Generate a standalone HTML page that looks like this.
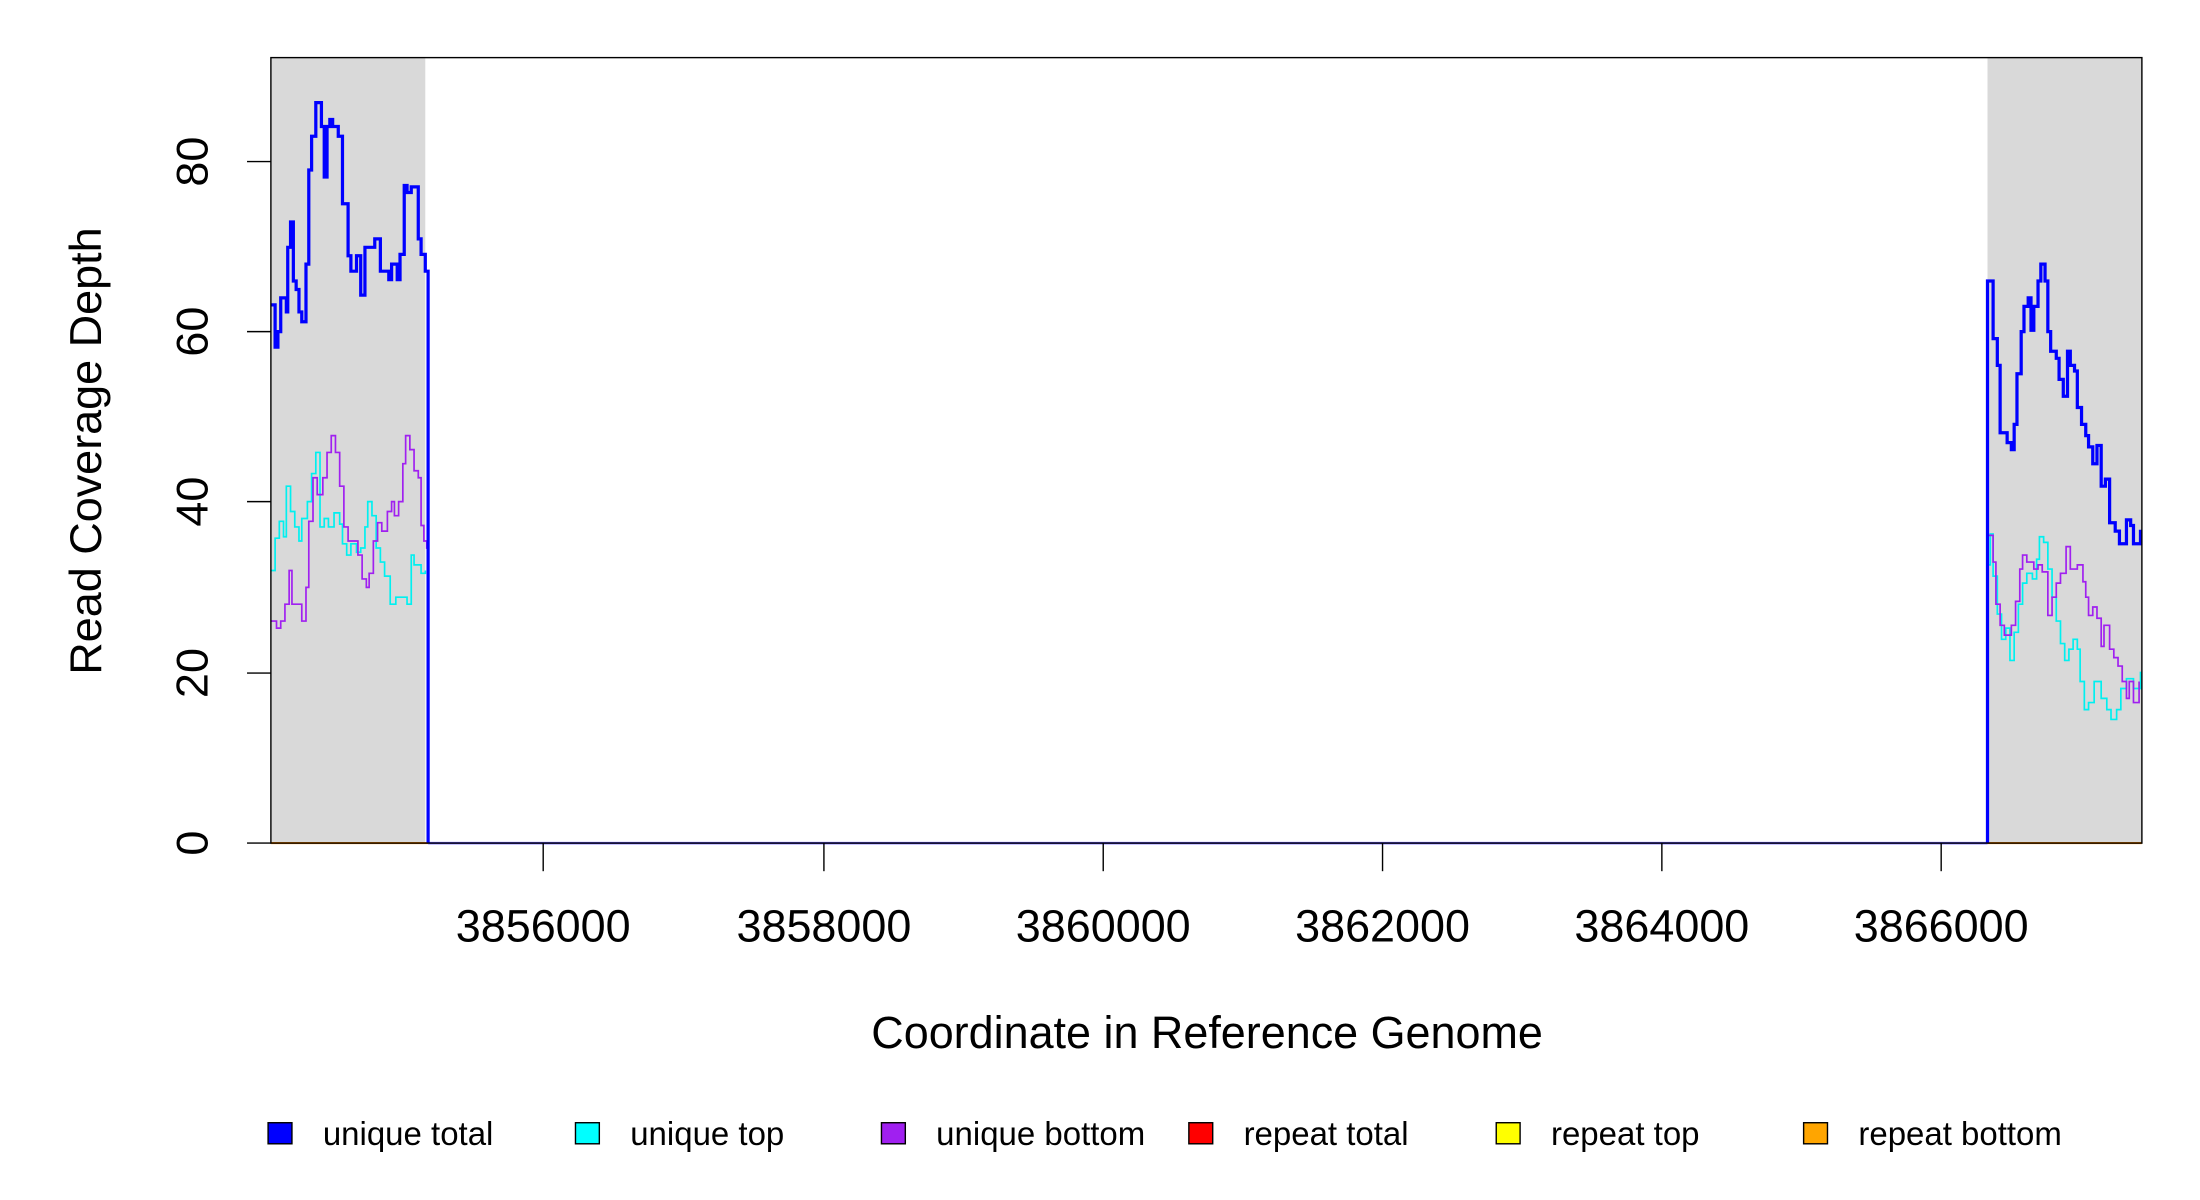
<!DOCTYPE html>
<html><head><meta charset="utf-8"><style>
html,body{margin:0;padding:0;background:#fff;}
svg{display:block;}
text{font-family:"Liberation Sans",sans-serif;fill:#000;}
</style></head><body>
<svg width="2200" height="1200" viewBox="0 0 1567.4 854" preserveAspectRatio="none" xmlns="http://www.w3.org/2000/svg">
<rect x="0" y="0" width="1567.4" height="854" fill="#fff"/>
<rect x="193" y="41" width="110" height="559" fill="#d9d9d9"/>
<rect x="1416" y="41" width="110" height="559" fill="#d9d9d9"/>
<line x1="193" y1="600" x2="305" y2="600" stroke="#ff8c00" stroke-width="1.5"/>
<line x1="1416" y1="600" x2="1526" y2="600" stroke="#ff8c00" stroke-width="1.5"/>
<line x1="305" y1="600" x2="1416" y2="600" stroke="#6a5cff" stroke-width="1.8"/>
<path fill="none" stroke="#00f0f0" stroke-width="1.2" d="M193 406 H196 V383 H199 V371 H202 V382 H204 V346 H207 V364 H210 V375 H213 V385 H215 V369 H219 V357 H222 V337 H225 V322 H228 V375 H231 V369 H234 V375 H238 V365 H242 V373 H244 V387 H247 V395 H250 V387 H254 V393 H257 V390 H260 V375 H262 V357 H265 V367 H268 V390 H271 V400 H274 V410 H278 V430 H282 V425 H290 V430 H293 V395 H295 V402 H300 V408 H303 V406"/>
<path fill="none" stroke="#a020f0" stroke-width="1.2" d="M193 442 H197 V447 H200 V442 H203 V430 H206 V406 H208 V430 H212 V430 H215 V442 H218 V418 H220 V371 H223 V340 H226 V352 H230 V340 H233 V322 H236 V310 H239 V322 H242 V346 H245 V375 H248 V385 H252 V385 H255 V395 H258 V412 H261 V418 H263 V408 H266 V385 H269 V372 H272 V378 H276 V364 H279 V357 H281 V367 H284 V357 H287 V330 H289 V310 H292 V320 H295 V335 H298 V340 H300 V374 H302 V385 H304 V390 H305 V600"/>
<path fill="none" stroke="#0000ff" stroke-width="2.3" d="M193 217 H196 V247 H198 V236 H200 V212 H204 V222 H205 V176 H207 V158 H209 V200 H211 V206 H213 V222 H215 V229 H218 V188 H220 V121 H222 V97 H225 V73 H229 V90 H231 V126 H233 V90 H235 V85 H237 V90 H241 V97 H244 V145 H248 V182 H250 V193 H254 V182 H257 V210 H260 V176 H267 V170 H271 V193 H277 V199 H279 V188 H283 V199 H285 V181 H288 V132 H290 V137 H293 V133 H298 V170 H300 V181 H303 V193 H305 V600"/>
<path fill="none" stroke="#00f0f0" stroke-width="1.2" d="M1416 402 H1418 V380 H1420 V410 H1423 V437 H1426 V455 H1429 V447 H1432 V470 H1435 V450 H1438 V430 H1441 V415 H1444 V408 H1448 V412 H1451 V398 H1453 V382 H1456 V386 H1459 V405 H1462 V425 H1465 V442 H1468 V458 H1471 V470 H1474 V462 H1477 V455 H1480 V462 H1482 V485 H1485 V505 H1488 V500 H1492 V485 H1497 V497 H1501 V505 H1504 V512 H1508 V505 H1511 V490 H1515 V483 H1520 V490 H1525 V478"/>
<path fill="none" stroke="#a020f0" stroke-width="1.2" d="M1416 600 V381 H1420 V400 H1422 V430 H1425 V445 H1428 V452 H1433 V445 H1436 V428 H1439 V405 H1441 V395 H1444 V400 H1449 V405 H1452 V402 H1455 V407 H1459 V438 H1462 V425 H1465 V415 H1468 V408 H1472 V389 H1475 V405 H1480 V402 H1484 V414 H1486 V425 H1488 V438 H1491 V432 H1494 V440 H1497 V460 H1499 V445 H1503 V462 H1506 V468 H1509 V474 H1512 V485 H1515 V497 H1517 V485 H1520 V500 H1524 V485"/>
<path fill="none" stroke="#0000ff" stroke-width="2.3" d="M1416 600 V200 H1420 V241 H1423 V260 H1425 V308 H1430 V315 H1433 V320 H1435 V302 H1437 V266 H1440 V236 H1442 V218 H1445 V212 H1447 V235 H1449 V218 H1452 V200 H1454 V188 H1457 V200 H1459 V236 H1461 V250 H1465 V255 H1467 V270 H1470 V282 H1473 V250 H1475 V260 H1478 V264 H1480 V290 H1483 V302 H1486 V310 H1488 V318 H1491 V330 H1494 V317 H1497 V346 H1500 V341 H1503 V372 H1507 V378 H1510 V387 H1515 V370 H1518 V374 H1520 V387 H1525 V377"/>
<rect x="193" y="41" width="1333" height="559" fill="none" stroke="#000" stroke-width="1"/>
<g stroke="#000" stroke-width="1">
<line x1="176" y1="600" x2="193" y2="600"/>
<line x1="176" y1="479" x2="193" y2="479"/>
<line x1="176" y1="357" x2="193" y2="357"/>
<line x1="176" y1="236" x2="193" y2="236"/>
<line x1="176" y1="115" x2="193" y2="115"/>
</g>
<g font-size="32" text-anchor="middle">
<text transform="translate(148,600) rotate(-90)">0</text>
<text transform="translate(148,479) rotate(-90)">20</text>
<text transform="translate(148,357) rotate(-90)">40</text>
<text transform="translate(148,236) rotate(-90)">60</text>
<text transform="translate(148,115) rotate(-90)">80</text>
<text transform="translate(72,321) rotate(-90)">Read Coverage Depth</text>
</g>
<g stroke="#000" stroke-width="1">
<line x1="387" y1="600" x2="387" y2="620"/>
<line x1="587" y1="600" x2="587" y2="620"/>
<line x1="786" y1="600" x2="786" y2="620"/>
<line x1="985" y1="600" x2="985" y2="620"/>
<line x1="1184" y1="600" x2="1184" y2="620"/>
<line x1="1383" y1="600" x2="1383" y2="620"/>
</g>
<g font-size="32" text-anchor="middle">
<text x="387" y="670">3856000</text>
<text x="587" y="670">3858000</text>
<text x="786" y="670">3860000</text>
<text x="985" y="670">3862000</text>
<text x="1184" y="670">3864000</text>
<text x="1383" y="670">3866000</text>
<text x="860" y="746">Coordinate in Reference Genome</text>
</g>
<g stroke="#000" stroke-width="1">
<rect x="191" y="799" width="17" height="15" fill="#0000ff"/>
<rect x="410" y="799" width="17" height="15" fill="#00ffff"/>
<rect x="628" y="799" width="17" height="15" fill="#a020f0"/>
<rect x="847" y="799" width="17" height="15" fill="#ff0000"/>
<rect x="1066" y="799" width="17" height="15" fill="#ffff00"/>
<rect x="1285" y="799" width="17" height="15" fill="#ffa500"/>
</g>
<g font-size="23.5">
<text x="230" y="815">unique total</text>
<text x="449" y="815">unique top</text>
<text x="667" y="815">unique bottom</text>
<text x="886" y="815">repeat total</text>
<text x="1105" y="815">repeat top</text>
<text x="1324" y="815">repeat bottom</text>
</g>
</svg>
</body></html>
